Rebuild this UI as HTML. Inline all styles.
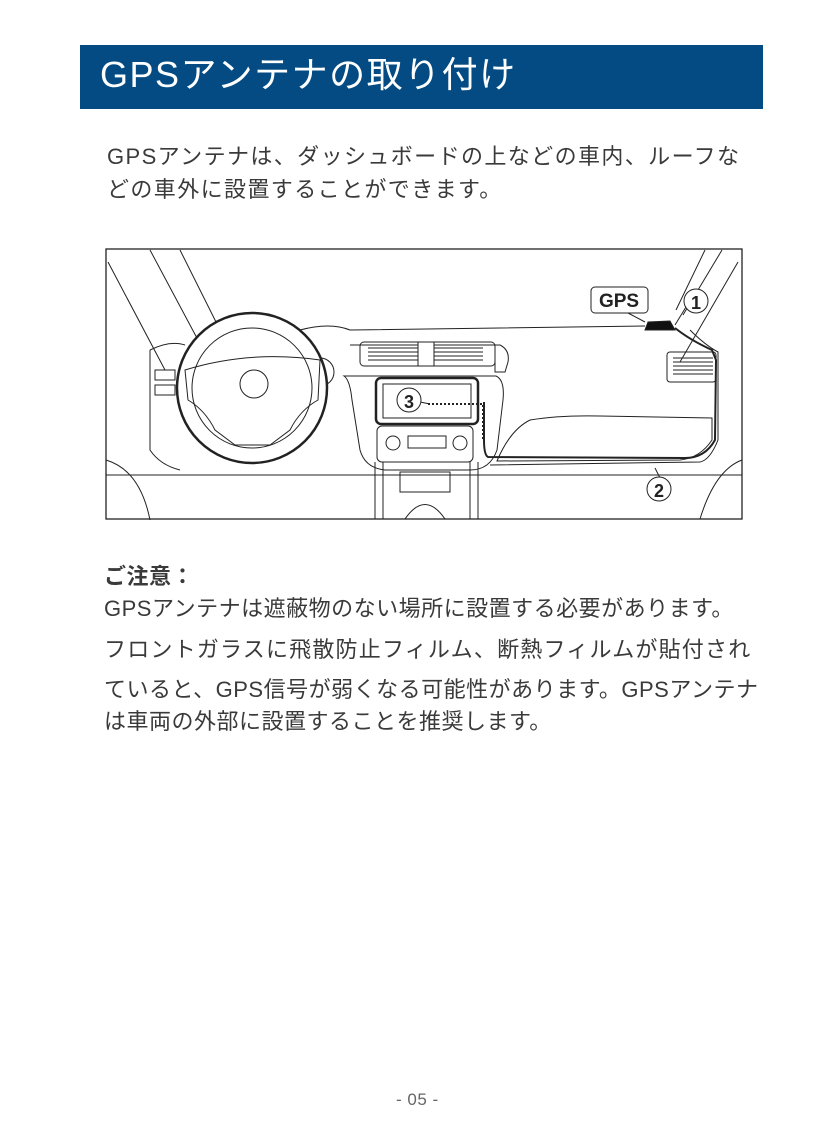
<!DOCTYPE html>
<html><head><meta charset="utf-8">
<style>
body{margin:0;width:823px;height:1138px;background:#fff;position:relative;overflow:hidden;font-family:"Liberation Sans","Noto Sans CJK JP",sans-serif;color:#3a3a3a}
.t{position:absolute;white-space:nowrap;font-size:22px;line-height:1;letter-spacing:0.5px}
#bar{position:absolute;left:80px;top:45px;width:683px;height:64px;background:#034b82}
#bar span{position:absolute;left:20px;top:12px;color:#fff;font-size:36px;line-height:1;letter-spacing:1.5px}
</style></head><body>
<div id="bar"><span>GPSアンテナの取り付け</span></div>
<div class="t" style="left:107px;top:146px;letter-spacing:1.4px">GPSアンテナは、ダッシュボードの上などの車内、ルーフな</div>
<div class="t" style="left:107px;top:179px;letter-spacing:1.4px">どの車外に設置することができます。</div>

<svg style="position:absolute;left:0;top:0" width="823" height="1138" viewBox="0 0 823 1138">
<g fill="none" stroke="#222" stroke-width="1">
<rect x="106" y="249" width="636" height="270" stroke-width="1.3"/>
<path d="M108 262 L165 370 M150 250 L198 340 M180 250 L225 340"/>
<path d="M738 262 L680 362 M722 250 L683 315 M705 250 L676 310"/>
<path d="M300 330 Q330 322 350 330 L645 326 M690 330 Q705 345 718 352 L718 440 Q710 460 700 462 L490 465"/>
<path d="M150 350 Q170 340 185 345 M150 350 L150 450 Q160 465 180 470"/>
<path d="M106 475 L742 475 M106 460 Q140 470 150 520 M742 460 Q715 470 700 519"/>
<path d="M530 420 Q560 415 600 416 L712 418 L712 440 Q700 458 680 460 L497 461 Q510 430 530 420"/>
<rect x="667" y="352" width="49" height="30" rx="3"/>
<path d="M673 358h40M673 362h40M673 366h40M673 370h40M673 374h40"/>
<path d="M350 345 L500 345 Q510 350 508 362 L505 372 L495 372 L495 345"/>
<rect x="360" y="342" width="135" height="24" rx="4"/>
<path d="M368 348h50M368 352h50M368 356h50M368 360h50M433 348h50M433 352h50M433 356h50M433 360h50"/>
<rect x="418" y="342" width="16" height="24" fill="#fff"/>
<path d="M344 376 L496 376 Q505 380 503 400 L497 450 Q490 470 470 470 L385 470 Q365 468 360 450 L352 400 Q350 380 344 376Z"/>
<rect x="376" y="378" width="102" height="46" rx="5" stroke-width="2.5"/>
<rect x="383" y="384" width="88" height="34"/>
<rect x="377" y="426" width="96" height="36" rx="5"/>
<circle cx="393" cy="443" r="7"/><circle cx="460" cy="443" r="7"/>
<rect x="408" y="436" width="38" height="12"/>
<path d="M375 462 L375 519 M383 462 L383 519 M470 462 L470 519 M478 462 L478 519"/>
<rect x="400" y="472" width="50" height="20"/>
<path d="M405 519 Q425 490 445 519"/>
<rect x="155" y="370" width="20" height="10"/><rect x="155" y="385" width="20" height="10"/>
<circle cx="265" cy="360" r="18"/><circle cx="320" cy="372" r="14"/>
<circle cx="252" cy="388" r="75" fill="#fff" stroke-width="2.5"/>
<circle cx="252" cy="388" r="60"/>
<circle cx="254" cy="384" r="14"/>
<path d="M185 370 Q250 350 320 360 L318 400 Q300 410 290 430 L270 445 L235 445 L215 430 Q205 410 188 400Z"/>
<rect x="591" y="287" width="57" height="26" rx="4" fill="#fff"/>
<path d="M628 313 L645 322"/>
<path d="M645 330 L648 322 L670 321 L675 330Z" fill="#111"/>
<path d="M675 328 Q690 340 712 350 L716 360 L715 440 Q705 458 685 458 L488 457 Q484 455 484 440 L484 402" stroke-width="2"/>
<path d="M428 404 L483 404 L483 440" stroke-width="2" stroke-dasharray="2 2"/>
<path d="M420 402 L430 404 M686 307 L675 325 M655 468 L660 478"/>
<circle cx="696" cy="301" r="12" fill="#fff"/>
<circle cx="659" cy="489" r="12" fill="#fff"/>
<circle cx="409" cy="400" r="12" fill="#fff"/>
</g>
<g font-family="Liberation Sans,sans-serif" font-weight="bold" fill="#222" text-anchor="middle">
<text x="619" y="307" font-size="19">GPS</text>
<text x="696" y="309" font-size="18">1</text>
<text x="659" y="497" font-size="18">2</text>
<text x="409" y="408" font-size="18">3</text>
</g>
</svg>

<div class="t" style="left:104px;top:566px;font-weight:bold">ご注意：</div>
<div class="t" style="left:104px;top:598px">GPSアンテナは遮蔽物のない場所に設置する必要があります。</div>
<div class="t" style="left:104px;top:639px;letter-spacing:1.2px">フロントガラスに飛散防止フィルム、断熱フィルムが貼付され</div>
<div class="t" style="left:104px;top:679px">ていると、GPS信号が弱くなる可能性があります。GPSアンテナ</div>
<div class="t" style="left:104px;top:711px">は車両の外部に設置することを推奨します。</div>
<div class="t" style="left:396px;top:1091px;font-size:17px;color:#666">- 05 -</div>
</body></html>
